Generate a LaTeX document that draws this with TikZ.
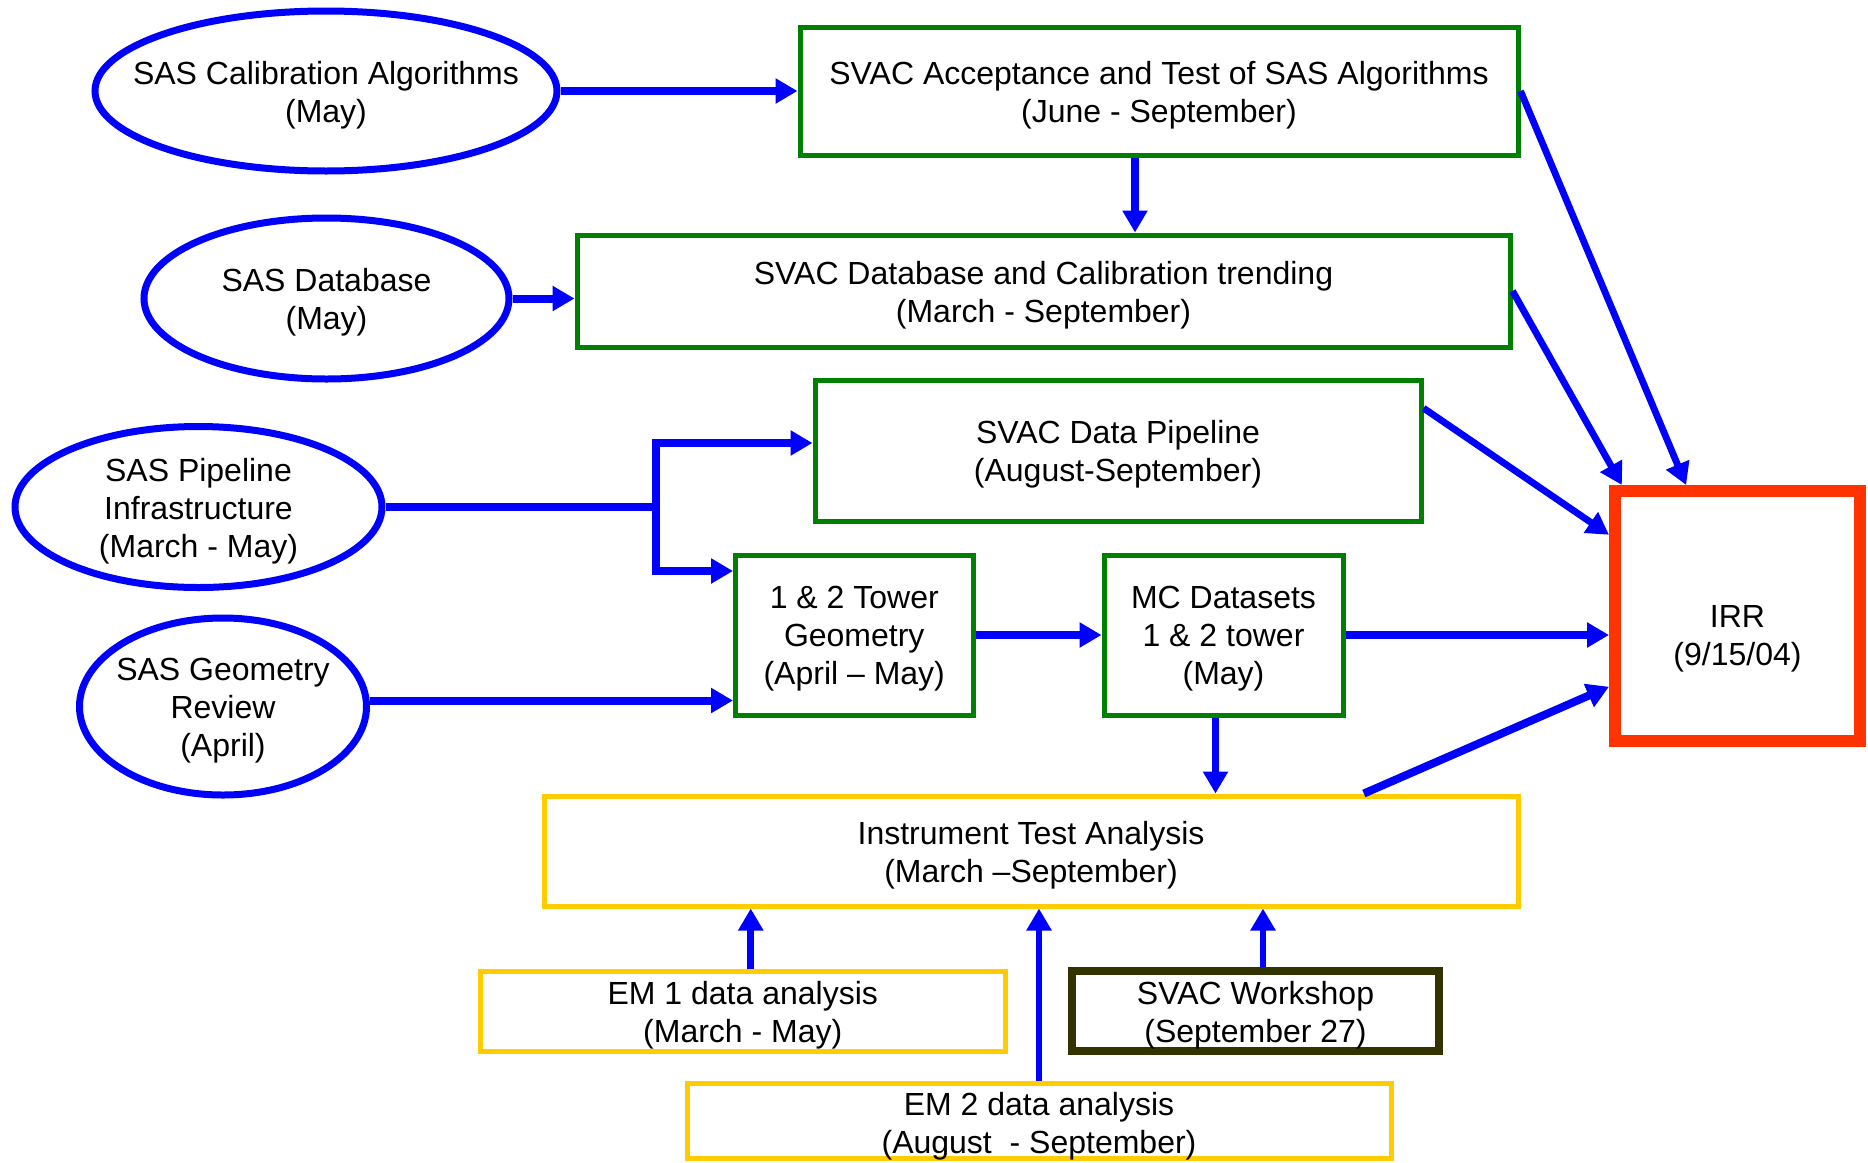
\documentclass[tikz,border=0pt]{standalone}
\usepackage{fontspec}
\setmainfont{Liberation Sans}
\usetikzlibrary{arrows.meta,shapes.geometric,calc}
\definecolor{cblue}{RGB}{0,0,255}
\definecolor{cgreen}{RGB}{0,128,0}
\definecolor{cyellow}{RGB}{255,204,0}
\definecolor{cred}{RGB}{255,51,0}
\definecolor{colive}{RGB}{51,51,0}
\begin{document}
\begin{tikzpicture}[x=0.5pt,y=-0.5pt,
  every node/.style={font=\fontsize{16}{19}\selectfont, align=center, text=black},
  lbl/.style={yshift=-2pt},
  ell/.style={ellipse, draw=cblue, line width=3.5pt, inner sep=0pt},
  gbox/.style={rectangle, draw=cgreen, line width=2.5pt, inner sep=0pt},
  ybox/.style={rectangle, draw=cyellow, line width=2.5pt, inner sep=0pt},
  tip/.tip={Triangle[length=11pt,width=12pt]},
  arr/.style={draw=cblue, line width=4pt, -tip},
  arrthin/.style={draw=cblue, line width=3.4pt, -tip},
  ln/.style={draw=cblue, line width=4pt},
]
\useasboundingbox (0,0) rectangle (1868,1162);

% ellipses
\node[ell, minimum width=231pt, minimum height=80pt] (e1) at (326,91) {};
\node[lbl] (e1t) at (e1) {SAS Calibration Algorithms\\(May)};
\node[ell, minimum width=182.5pt, minimum height=80.5pt] (e2) at (326.5,298.5) {};
\node[lbl] (e2t) at (e2) {SAS Database\\(May)};
\node[ell, minimum width=183.5pt, minimum height=80.5pt] (e3) at (198.5,507) {};
\node[lbl] (e3t) at (e3) {SAS Pipeline\\Infrastructure\\(March - May)};
\node[ell, minimum width=143.5pt, minimum height=88.5pt] (e4) at (223,706.5) {};
\node[lbl] (e4t) at (e4) {SAS Geometry\\Review\\(April)};

% green boxes
\node[gbox, minimum width=359pt, minimum height=64pt] (b1) at (1159,91) {};
\node[lbl] (b1t) at (b1) {SVAC Acceptance and Test of SAS Algorithms\\(June - September)};
\node[gbox, minimum width=466.5pt, minimum height=56pt] (b2) at (1043.5,291) {};
\node[lbl] (b2t) at (b2) {SVAC Database and Calibration trending\\(March - September)};
\node[gbox, minimum width=303pt, minimum height=70.5pt] (b3) at (1118,450.5) {};
\node[lbl] (b3t) at (b3) {SVAC Data Pipeline\\(August-September)};
\node[gbox, minimum width=118.75pt, minimum height=80pt] (b4) at (854.25,635) {};
\node[lbl] (b4t) at (b4) {1 \& 2 Tower\\Geometry\\(April – May)};
\node[gbox, minimum width=119.5pt, minimum height=80pt] (b5) at (1223.5,635) {};
\node[lbl] (b5t) at (b5) {MC Datasets\\1 \& 2 tower\\(May)};

% IRR
\node[rectangle, draw=cred, line width=6pt, minimum width=122.5pt, minimum height=125pt] (irr) at (1737.5,616) {};
\node[lbl] (irrt) at (1737.5,635) {IRR\\(9/15/04)};

% yellow and workshop boxes
\node[ybox, minimum width=487pt, minimum height=55pt] (ita) at (1031,851) {};
\node[lbl] (itat) at (ita) {Instrument Test Analysis\\(March –September)};
\node[ybox, minimum width=262.75pt, minimum height=39.75pt] (em1) at (742.75,1011.25) {};
\node[lbl] (em1t) at (em1) {EM 1 data analysis\\(March - May)};
\node[rectangle, draw=colive, line width=4pt, inner sep=0pt, minimum width=183.5pt, minimum height=40pt] (ws) at (1255.5,1011) {};
\node[lbl] (wst) at (ws) {SVAC Workshop\\(September 27)};
\node[ybox, minimum width=352pt, minimum height=37.5pt] (em2) at (1039,1120.5) {};
\node[lbl] (em2t) at (1039,1122) {EM 2 data analysis\\(August\ \ - September)};

% connectors
\draw[arr] (e1.east) -- (e1.east -| b1.west);
\draw[arr] ([xshift=-12pt]b1.south) -- ([xshift=-12pt]b1.south |- b2.north);
\draw[arr] (e2.east) -- (e2.east -| b2.west);

\coordinate (ja) at (656,443);
\coordinate (jb) at (656,571);
\draw[ln] (e3.east) -- (e3.east -| ja);
\draw[draw=cblue, line width=3.6pt, tip-tip] (ja -| b3.west) -- (ja) -- (jb) -- (jb -| b4.west);

\draw[arr] ([yshift=3pt]e4.east) -- ([yshift=3pt]e4.east -| b4.west);
\draw[arr] (b4.east) -- (b5.west);
\draw[arr] (b5.east) -- (b5.east -| irr.west);
\draw[arrthin] ([xshift=-4pt]b5.south) -- ([xshift=-4pt]b5.south |- ita.north);
\draw[arr] ($(ita.north west)!0.84!(ita.north east)$) -- ($(irr.north west)!0.77!(irr.south west)$);
\draw[arrthin] ($(b3.north east)!0.21!(b3.south east)$) -- ($(irr.north west)!0.19!(irr.south west)$);
\draw[arrthin] (b2.east) -- ($(irr.north west)!0.05!(irr.north east)$);
\draw[arrthin] (b1.east) -- ($(irr.north west)!0.30!(irr.north east)$);

\draw[arrthin] ([xshift=4pt]em1.north) -- ([xshift=4pt]em1.north |- ita.south);
\draw[arrthin] (em2.north) -- (em2.north |- ita.south);
\draw[arrthin] ([xshift=3.75pt]ws.north) -- ([xshift=3.75pt]ws.north |- ita.south);
\end{tikzpicture}
\end{document}
